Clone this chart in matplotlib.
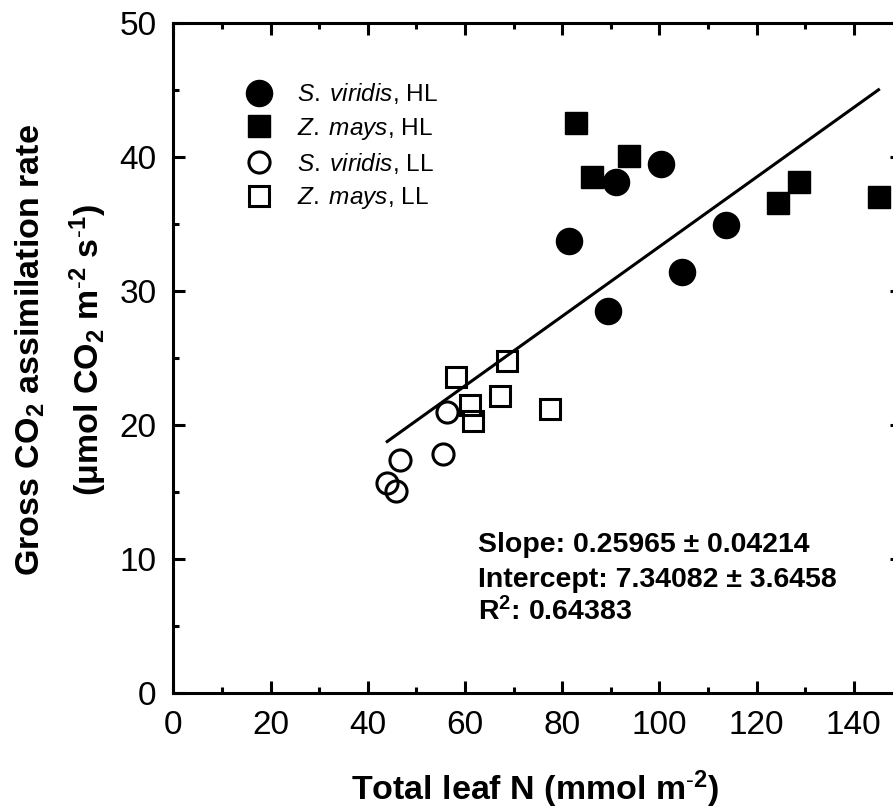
import numpy as np
import matplotlib
matplotlib.use("Agg")
import matplotlib.pyplot as plt
from matplotlib.ticker import MultipleLocator

plt.rcParams['font.family'] = ['Liberation Sans', 'DejaVu Sans']
plt.rcParams['mathtext.fontset'] = 'custom'
plt.rcParams['mathtext.rm'] = 'Liberation Sans'
plt.rcParams['mathtext.it'] = 'Liberation Sans:italic'
plt.rcParams['mathtext.bf'] = 'Liberation Sans:bold'

# S. viridis, high light
sv_hl_x = [81.5, 89.5, 91.1, 100.4, 104.7, 113.8]
sv_hl_y = [33.7, 28.5, 38.1, 39.5, 31.4, 34.9]
# Z. mays, high light
zm_hl_x = [82.9, 86.1, 93.7, 124.5, 128.8, 145.1]
zm_hl_y = [42.5, 38.5, 40.1, 36.6, 38.1, 37.0]
# S. viridis, low light
sv_ll_x = [44.0, 45.9, 46.6, 55.5, 56.3]
sv_ll_y = [15.7, 15.1, 17.4, 17.8, 21.0]
# Z. mays, low light
zm_ll_x = [58.2, 61.1, 61.7, 67.3, 68.7, 77.6]
zm_ll_y = [23.6, 21.5, 20.3, 22.2, 24.8, 21.2]

slope = 0.25965
slope_err = 0.04214
intercept = 7.34082
intercept_err = 3.6458
r2 = 0.64383

fig = plt.figure(figsize=(8.93, 8.09), dpi=100)
ax = fig.add_axes([0.1941, 0.1434, 0.8164, 0.8282])

# regression line over the range of the data
all_x = sv_hl_x + zm_hl_x + sv_ll_x + zm_ll_x
fx = np.array([min(all_x), max(all_x)])
ax.plot(fx, slope * fx + intercept, color='black', lw=2.2, zorder=2)

ax.plot(sv_hl_x, sv_hl_y, 'o', ms=18.8, mfc='black', mec='black', mew=1,
        ls='none', label=r'$\mathit{S.\;viridis}$, HL', zorder=3)
ax.plot(zm_hl_x, zm_hl_y, 's', ms=16.5, mfc='black', mec='black', mew=1,
        ls='none', label=r'$\mathit{Z.\;mays}$, HL', zorder=3)
ax.plot(sv_ll_x, sv_ll_y, 'o', ms=15.2, mfc='none', mec='black', mew=2.2,
        ls='none', label=r'$\mathit{S.\;viridis}$, LL', zorder=3)
ax.plot(zm_ll_x, zm_ll_y, 's', ms=14.4, mfc='none', mec='black', mew=2.2,
        ls='none', label=r'$\mathit{Z.\;mays}$, LL', zorder=3)

ax.set_xlim(0, 150)
ax.set_ylim(0, 50)
ax.xaxis.set_major_locator(MultipleLocator(20))
ax.xaxis.set_minor_locator(MultipleLocator(10))
ax.yaxis.set_major_locator(MultipleLocator(10))
ax.yaxis.set_minor_locator(MultipleLocator(5))
ax.tick_params(which='both', direction='in', top=True, right=True,
               width=2.2, labelsize=24, pad=12)
ax.tick_params(which='major', length=8.6)
ax.tick_params(which='minor', length=4.3)
for sp in ax.spines.values():
    sp.set_linewidth(2.2)

leg = ax.legend(loc='upper left', bbox_to_anchor=(0.084, 0.913),
                frameon=False, fontsize=17.6, numpoints=1, borderpad=0,
                borderaxespad=0, handlelength=2.0, handletextpad=0.55,
                labelspacing=0.38)

ax.text(62.7, 10.52, 'Slope: %.5f \u00b1 %.5f' % (slope, slope_err),
        fontsize=20.5, fontweight='bold', va='baseline')
ax.text(62.7, 7.91, 'Intercept: %.5f \u00b1 %.4f' % (intercept, intercept_err),
        fontsize=20.5, fontweight='bold', va='baseline')
ax.text(62.7, 5.45, r'R$^{\mathbf{2}}$: %.5f' % r2,
        fontsize=20.5, fontweight='bold', va='baseline')

fig.text(0.599, 0.011, r'Total leaf N (mmol m$^{\text{-}\mathbf{2}}$)',
         fontsize=24.5, fontweight='bold', ha='center', va='baseline')
fig.text(0.034, 0.567, r'Gross CO$_{\mathbf{2}}$ assimilation rate',
         fontsize=24.5, fontweight='bold', rotation=90, ha='center', va='center')
fig.text(0.0985, 0.567,
         '(μmol CO$_{\\mathbf{2}}$ m$^{\\text{-}\\mathbf{2}}$ '
         's$^{\\text{-}\\mathbf{1}}$)',
         fontsize=24.5, fontweight='bold', rotation=90, ha='center', va='center')

fig.savefig('out.png', dpi=100)
